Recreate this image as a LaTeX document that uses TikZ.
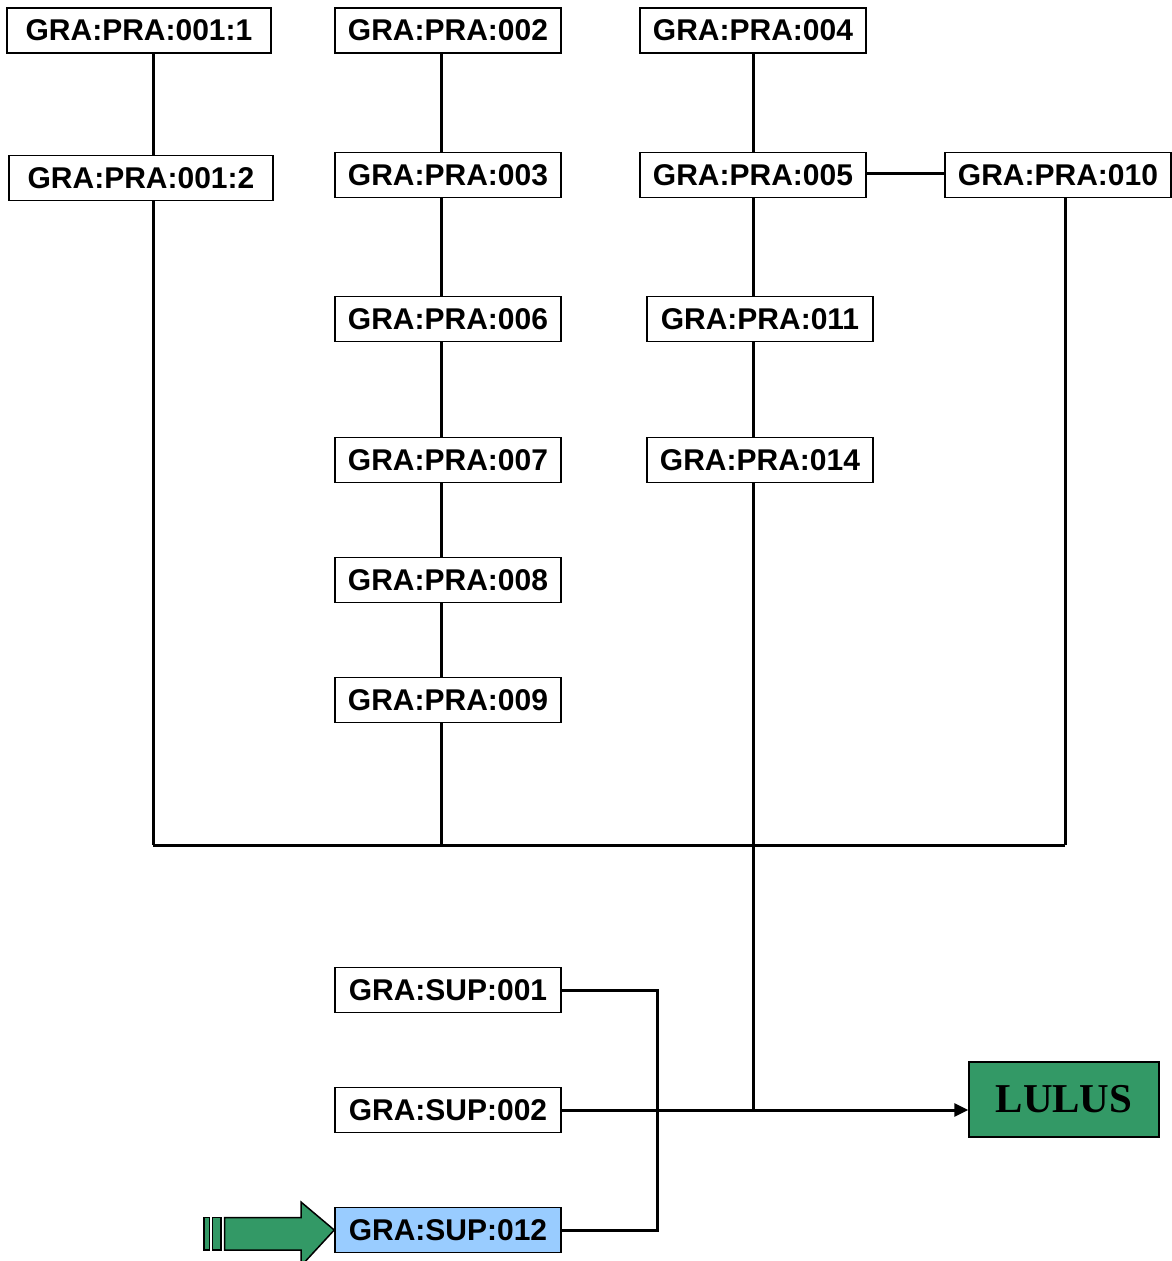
\documentclass[tikz,border=0pt]{standalone}
\usepackage{fontspec}
\setmainfont{Liberation Sans}
\newfontfamily\lulusfont{Liberation Serif}
\usetikzlibrary{arrows.meta, positioning}
\usepackage{xcolor}
\definecolor{lulusgreen}{RGB}{51,153,102}
\definecolor{currentblue}{RGB}{153,204,255}
\tikzset{codebox/.style={rectangle, fill=white, draw=black, line width=1.5pt, minimum width=226pt, minimum height=45pt, inner sep=0pt, font=\fontsize{30}{36}\selectfont\bfseries},widecodebox/.style={codebox, minimum width=264pt}}
\tikzset{currentbox/.style={codebox, fill=currentblue},resultbox/.style={rectangle, fill=lulusgreen, draw=black, line width=1.5pt, minimum width=190pt, minimum height=75pt, inner sep=0pt, font=\lulusfont\fontsize{41}{48}\selectfont\bfseries}}

\begin{document}
\begin{tikzpicture}[
        x=1pt, y=-1pt,
        line join=miter,
        link/.style={draw=black, line width=3pt},
        bigarrow/.style={fill=lulusgreen, draw=black, line width=1.5pt}
    ]
        \useasboundingbox (0, 0) rectangle (1172, 1261);
        % Columns of the connectors
        \coordinate (colA) at (153, 0);
        \coordinate (colB) at (441, 0);
        \coordinate (colC) at (753, 0);
        \coordinate (colD) at (1065, 0);
        \coordinate (colE) at (657, 0);
        \coordinate (bus) at (0, 845);
        % Practice codes
        \node [widecodebox] (pra001a) at (139, 30.5) {GRA:PRA:001:1};
        \node [widecodebox] (pra001b) at (141, 178) {GRA:PRA:001:2};
        \node [codebox] (pra002) at (448, 30.5) {GRA:PRA:002};
        \node [codebox] (pra003) at (448, 175) {GRA:PRA:003};
        \node [codebox] (pra006) at (448, 319) {GRA:PRA:006};
        \node [codebox] (pra007) at (448, 460) {GRA:PRA:007};
        \node [codebox] (pra008) at (448, 580) {GRA:PRA:008};
        \node [codebox] (pra009) at (448, 700) {GRA:PRA:009};
        \node [codebox] (pra004) at (753, 30.5) {GRA:PRA:004};
        \node [codebox] (pra005) at (753, 175) {GRA:PRA:005};
        \node [codebox] (pra011) at (760, 319) {GRA:PRA:011};
        \node [codebox] (pra014) at (760, 460) {GRA:PRA:014};
        \node [codebox] (pra010) at (1058, 175) {GRA:PRA:010};
        % Supervision codes
        \node [codebox] (sup001) at (448, 990) {GRA:SUP:001};
        \node [codebox] (sup002) at (448, 1110) {GRA:SUP:002};
        \node [currentbox] (sup012) at (448, 1230) {GRA:SUP:012};
        % Result
        \node [resultbox] (lulus) at (1064, 1099.5) {LULUS};
        % Connectors
        \draw [link] (pra001a.south -| colA) -- (pra001b.north -| colA);
        \draw [link] (pra001b.south -| colA) -- (bus -| colA);
        \draw [link] (pra002.south -| colB) -- (pra003.north -| colB);
        \draw [link] (pra003.south -| colB) -- (pra006.north -| colB);
        \draw [link] (pra006.south -| colB) -- (pra007.north -| colB);
        \draw [link] (pra007.south -| colB) -- (pra008.north -| colB);
        \draw [link] (pra008.south -| colB) -- (pra009.north -| colB);
        \draw [link] (pra009.south -| colB) -- (bus -| colB);
        \draw [link] (pra004.south -| colC) -- (pra005.north -| colC);
        \draw [link] (pra005.south -| colC) -- (pra011.north -| colC);
        \draw [link] (pra011.south -| colC) -- (pra014.north -| colC);
        \draw [link] (pra014.south -| colC) -- (sup002.east -| colC);
        \draw [link] ([yshift=2pt]pra005.east) -- ([yshift=2pt]pra010.west);
        \draw [link] (pra010.south -| colD) -- (bus -| colD);
        \draw [link] (bus -| colA) -- (bus -| colD);
        \draw [link] (sup001.east) -- (sup001.east -| colE) -- (sup012.east -| colE) -- (sup012.east);
        \draw [link, -{Triangle[length=14pt, width=13pt]}] (sup002.east) -- (lulus.west |- sup002.east);
        % Pointer to the current code
        \filldraw [bigarrow] (204, 1217.5) rectangle (209.5, 1250);
        \filldraw [bigarrow] (212.5, 1217.5) rectangle (221, 1250);
        \filldraw [bigarrow] (224.5, 1217.5) -- (301, 1217.5) -- (301, 1202) -- (sup012.west) -- (301, 1266) -- (301, 1250) -- (224.5, 1250) -- cycle;
    \end{tikzpicture}
\end{document}
